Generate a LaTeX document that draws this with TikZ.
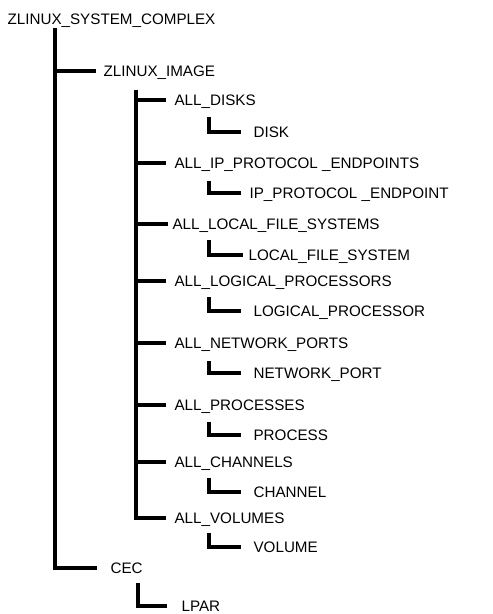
\documentclass[tikz,border=0pt]{standalone}
\usepackage{fontspec}
\setmainfont{Liberation Sans}
\usepackage{tikz}

\begin{document}
\begin{tikzpicture}[x=0.5pt, y=-0.5pt, line width=1.6pt,
    item/.style={anchor=west, inner ysep=0pt, text height=5.4pt, text depth=0pt,
                 font=\fontsize{7.6}{9}\selectfont},
    lvlone/.style={item, inner xsep=3pt},
    lvltwo/.style={item, inner xsep=3.5pt},
    lvlthree/.style={item, inner xsep=5.5pt}]
    \useasboundingbox (0,0) rectangle (492,614);
    \node [item, inner xsep=0pt] at (6,19) (root) {ZLINUX\_SYSTEM\_COMPLEX};
    \node [lvlone] at (96,71) (img) {ZLINUX\_IMAGE};
    \node [lvlone, inner xsep=6pt] at (97,568) (cec) {CEC};
    \node [lvlone, inner xsep=6.5pt] at (167,606) (lpar) {LPAR};
    \node [lvltwo] at (166,100) (disks) {ALL\_DISKS};
    \node [lvltwo] at (166,163) (ipeps) {ALL\_IP\_PROTOCOL \_ENDPOINTS};
    \node [lvltwo, inner xsep=1.5pt] at (168,224) (lfss) {ALL\_LOCAL\_FILE\_SYSTEMS};
    \node [lvltwo] at (166,281) (lprocs) {ALL\_LOGICAL\_PROCESSORS};
    \node [lvltwo] at (166,343) (nports) {ALL\_NETWORK\_PORTS};
    \node [lvltwo] at (166,405) (procs) {ALL\_PROCESSES};
    \node [lvltwo] at (166,462) (chans) {ALL\_CHANNELS};
    \node [lvltwo] at (166,518) (vols) {ALL\_VOLUMES};
    \node [lvlthree] at (241,132) (disk) {DISK};
    \node [lvlthree, inner xsep=3.5pt] at (241,193) (ipep) {IP\_PROTOCOL \_ENDPOINT};
    \node [lvlthree, inner xsep=2pt] at (243,255) (lfs) {LOCAL\_FILE\_SYSTEM};
    \node [lvlthree] at (241,311) (lproc) {LOGICAL\_PROCESSOR};
    \node [lvlthree] at (241,373) (nport) {NETWORK\_PORT};
    \node [lvlthree] at (241,435) (proc) {PROCESS};
    \node [lvlthree] at (241,492) (chan) {CHANNEL};
    \node [lvlthree] at (241,547) (vol) {VOLUME};
    \coordinate (rootbar) at (55,28);
    \coordinate (imgbar) at (136,90);
    \coordinate (cecbar) at (138,583);
    \coordinate (diskbar) at (209,117);
    \coordinate (ipepbar) at (209,181);
    \coordinate (lfsbar) at (209,240);
    \coordinate (lprocbar) at (209,297);
    \coordinate (nportbar) at (209,361);
    \coordinate (procbar) at (209,422);
    \coordinate (chanbar) at (209,478);
    \coordinate (volbar) at (209,533);
    \path [draw] (rootbar) |- (img);
    \path [draw] (rootbar) |- (cec);
    \path [draw] (cecbar) |- (lpar);
    \path [draw] (imgbar) |- (disks);
    \path [draw] (imgbar) |- (ipeps);
    \path [draw] (imgbar) |- (lfss);
    \path [draw] (imgbar) |- (lprocs);
    \path [draw] (imgbar) |- (nports);
    \path [draw] (imgbar) |- (procs);
    \path [draw] (imgbar) |- (chans);
    \path [draw] (imgbar) |- (vols);
    \path [draw] (diskbar) |- (disk);
    \path [draw] (ipepbar) |- (ipep);
    \path [draw] (lfsbar) |- (lfs);
    \path [draw] (lprocbar) |- (lproc);
    \path [draw] (nportbar) |- (nport);
    \path [draw] (procbar) |- (proc);
    \path [draw] (chanbar) |- (chan);
    \path [draw] (volbar) |- (vol);
\end{tikzpicture}
\end{document}
